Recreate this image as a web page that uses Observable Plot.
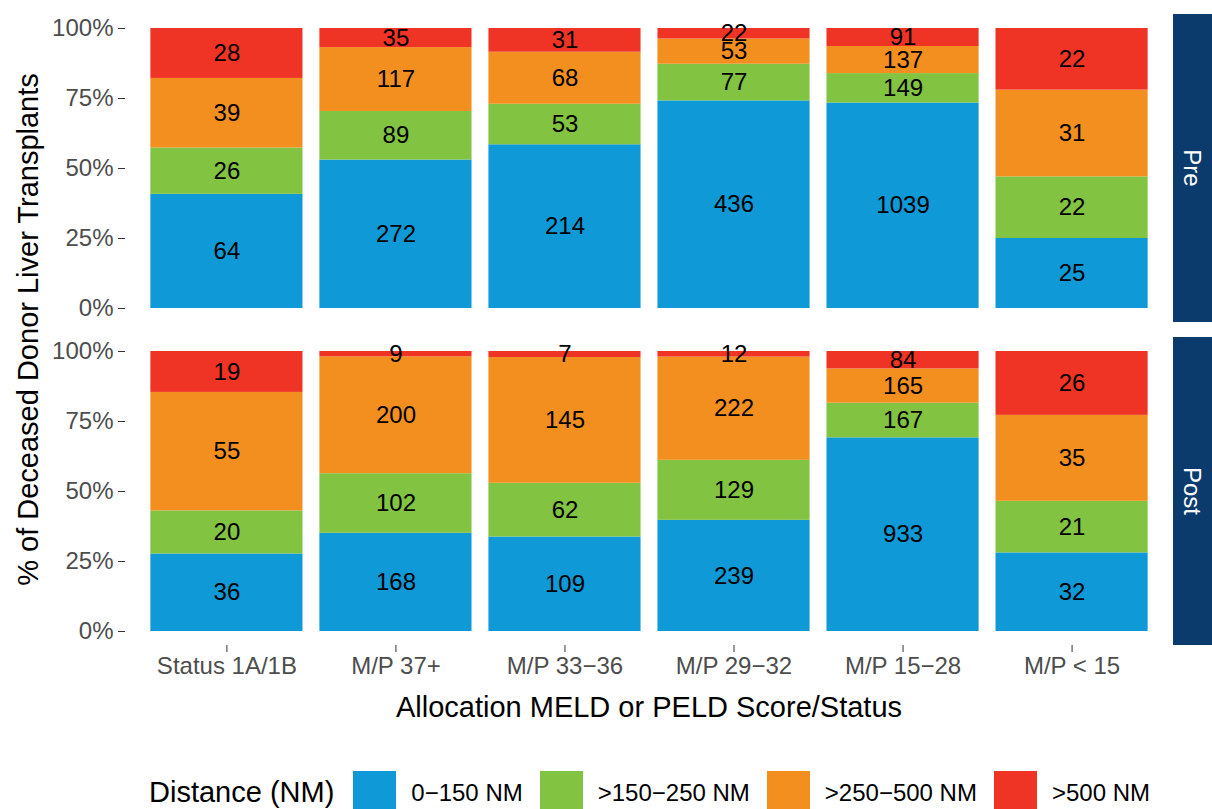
<!DOCTYPE html>
<html>
<head>
<meta charset="utf-8">
<script src="https://cdn.jsdelivr.net/npm/d3@7"></script>
<script src="https://cdn.jsdelivr.net/npm/@observablehq/plot@0.6"></script>
<style>
  html, body { margin: 0; padding: 0; background: #fff; width: 1212px; height: 809px; overflow: hidden; }
  body { font-family: "Liberation Sans", Arial, sans-serif; }
  #chart svg { display: block; }
  g[aria-label^="x-axis"] text, g[aria-label^="y-axis"] text { fill: #4d4d4d; }
  g[aria-label^="x-axis"] path, g[aria-label^="y-axis"] path,
  g[aria-label^="x-axis"] line, g[aria-label^="y-axis"] line { stroke: #333; }
  #legend { display: flex; align-items: center; height: 43px; margin-top: 26px; padding-left: 149px; white-space: nowrap; }
  #legend .title { font-size: 29px; color: #000; margin-right: 19px; }
  #legend .sw { width: 43px; height: 43px; margin-right: 15px; flex: none; }
  #legend .lab { font-size: 24px; color: #000; margin-right: 17px; }
</style>
</head>
<body>
<div id="chart"></div>
<div id="legend"></div>
<script>
// ---- Data ----
const categories = ["Status 1A/1B", "M/P 37+", "M/P 33\u221236", "M/P 29\u221232", "M/P 15\u221228", "M/P < 15"];
const periods = ["Pre", "Post"];
const distances = ["0\u2212150 NM", ">150\u2212250 NM", ">250\u2212500 NM", ">500 NM"];
const distanceColors = ["#0f99d6", "#82c341", "#f28f1f", "#ef3425"];

const pre_0_150   = [64, 272, 214, 436, 1039, 25];
const pre_150_250 = [26, 89, 53, 77, 149, 22];
const pre_250_500 = [39, 117, 68, 53, 137, 31];
const pre_500     = [28, 35, 31, 22, 91, 22];

const post_0_150   = [36, 168, 109, 239, 933, 32];
const post_150_250 = [20, 102, 62, 129, 167, 21];
const post_250_500 = [55, 200, 145, 222, 165, 35];
const post_500     = [19, 9, 7, 12, 84, 26];

const yTicks = [0, 0.25, 0.5, 0.75, 1];
const yTitle = "% of Deceased Donor Liver Transplants";
const xTitle = "Allocation MELD or PELD Score/Status";
const legendTitle = "Distance (NM)";

// ---- Build table ----
const seriesByPeriod = {
  Pre: [pre_0_150, pre_150_250, pre_250_500, pre_500],
  Post: [post_0_150, post_150_250, post_250_500, post_500]
};
const rows = [];
for (const p of periods) {
  categories.forEach((c, i) => {
    distances.forEach((d, k) => {
      rows.push({period: p, category: c, distance: d, count: seriesByPeriod[p][k][i]});
    });
  });
}

const W = 1212, H = 745;
const mL = 125, mR = 39, mT = 14, mB = 100;

const plot = Plot.plot({
  width: W,
  height: H,
  marginLeft: mL,
  marginRight: mR,
  marginTop: mT,
  marginBottom: mB,
  style: {fontFamily: "'Liberation Sans', Arial, sans-serif", fontSize: "24px", background: "white", overflow: "visible"},
  x: {domain: categories, paddingInner: 0.1, paddingOuter: 0.15, round: false, label: null, tickSize: 7, tickPadding: 4},
  y: {domain: [-0.05, 1.05], ticks: yTicks, tickFormat: d => Math.round(d * 100) + "%", label: null, tickSize: 7, tickPadding: 5},
  fy: {domain: periods, paddingInner: 15 / 323, paddingOuter: 0, round: false, axis: null, label: null},
  color: {domain: distances, range: distanceColors},
  marks: [
    Plot.barY(rows, Plot.stackY({
      x: "category", y: "count", fill: "distance", fy: "period",
      offset: "normalize", order: distances
    })),
    Plot.text(rows, Plot.stackY({
      x: "category", y: "count", z: "distance", fy: "period",
      offset: "normalize", order: distances,
      text: d => String(d.count), fill: "black", fontSize: 24
    }))
  ]
});

document.getElementById("chart").appendChild(plot);

// ---- Facet strips and axis titles ----
const svg = d3.select(plot);
const fyScale = plot.scale("fy");
const bw = fyScale.bandwidth;
const stripX = W - mR;
for (const p of periods) {
  const top = fyScale.apply(p);
  svg.append("rect")
    .attr("x", stripX).attr("y", top)
    .attr("width", W - stripX).attr("height", bw)
    .attr("fill", "#0b3b6c");
  svg.append("text")
    .attr("transform", `translate(${(stripX + W) / 2},${top + bw / 2}) rotate(90)`)
    .attr("text-anchor", "middle")
    .attr("dominant-baseline", "central")
    .attr("fill", "white")
    .style("font-size", "24px")
    .text(p);
}
const yr = fyScale.range;
svg.append("text")
  .attr("transform", `translate(28,${(yr[0] + yr[1]) / 2}) rotate(-90)`)
  .attr("text-anchor", "middle")
  .attr("dominant-baseline", "central")
  .attr("fill", "black")
  .style("font-size", "29px")
  .text(yTitle);
svg.append("text")
  .attr("x", (mL + (W - mR)) / 2)
  .attr("y", 707)
  .attr("text-anchor", "middle")
  .attr("dominant-baseline", "central")
  .attr("fill", "black")
  .style("font-size", "29px")
  .text(xTitle);

// ---- Legend ----
const legend = d3.select("#legend");
legend.append("span").attr("class", "title").text(legendTitle);
distances.forEach((d, i) => {
  legend.append("span").attr("class", "sw").style("background", distanceColors[i]);
  legend.append("span").attr("class", "lab").text(d);
});
</script>
</body>
</html>
